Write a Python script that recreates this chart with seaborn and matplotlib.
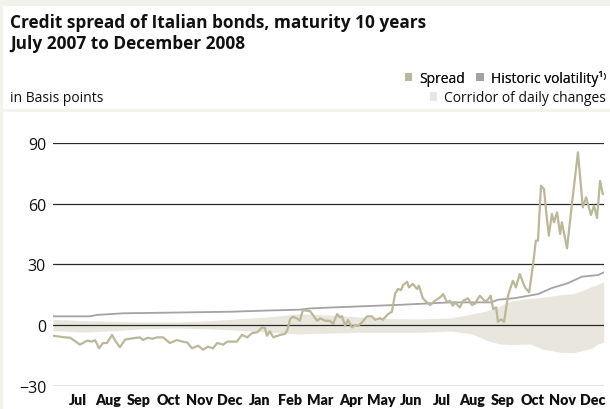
import matplotlib
matplotlib.use("Agg")
import matplotlib.pyplot as plt
import seaborn as sns
import pandas as pd
from matplotlib.patches import Rectangle, Patch

# ---------------- data ----------------
title_lines = ["Credit spread of Italian bonds, maturity 10 years",
               "July 2007 to December 2008"]
unit_label = "in Basis points"
month_labels = ["Jul", "Aug", "Sep", "Oct", "Nov", "Dec", "Jan", "Feb", "Mar",
                "Apr", "May", "Jun", "Jul", "Aug", "Sep", "Oct", "Nov", "Dec"]
y_ticks = [-30, 0, 30, 60, 90]
y_tick_labels = ["\u221230", "0", "30", "60", "90"]
legend_labels = ["Spread", "Historic volatility\u00b9\u207e", "Corridor of daily changes"]

# x = months since 1 July 2007 (0 = start of July 2007)
spread_month = [-0.33, 0.07, 0.24, 0.56, 0.73, 0.82, 0.96, 1.06, 1.19, 1.32, 1.45, 1.62,
                1.72, 1.88, 2.05, 2.28, 2.54, 2.64, 2.80, 2.95, 3.11, 3.30, 3.53, 3.76,
                3.94, 4.10, 4.26, 4.46, 4.62, 4.79, 4.95, 5.09, 5.29, 5.42, 5.74, 5.91,
                6.08, 6.24, 6.41, 6.57, 6.67, 6.73, 6.83, 6.94, 7.17, 7.33, 7.40, 7.50,
                7.59, 7.72, 7.82, 7.92, 8.16, 8.39, 8.49, 8.65, 8.81, 8.91, 9.05, 9.15,
                9.21, 9.31, 9.41, 9.54, 9.64, 9.74, 9.87, 10.04, 10.20, 10.30, 10.47,
                10.56, 10.73, 10.86, 10.96, 11.05, 11.16, 11.23, 11.36, 11.42, 11.55,
                11.69, 11.75, 11.88, 12.01, 12.12, 12.28, 12.45, 12.55, 12.68, 12.77,
                12.87, 12.94, 13.10, 13.21, 13.37, 13.50, 13.60, 13.76, 13.93, 14.03,
                14.12, 14.20, 14.30, 14.36, 14.46, 14.56, 14.69, 14.85, 14.95, 15.08,
                15.25, 15.39, 15.52, 15.61, 15.68, 15.78, 15.88, 15.97, 16.04, 16.14,
                16.21, 16.31, 16.41, 16.47, 16.64, 16.80, 17.00, 17.16, 17.27, 17.43,
                17.53, 17.63, 17.73, 17.82, 17.85]
spread_bp = [-5.3, -6.1, -6.3, -9.7, -8.2, -7.7, -8.2, -7.5, -11.5, -8.9, -8.9, -4.9,
             -7.7, -11.0, -7.2, -6.6, -6.1, -7.4, -6.3, -6.8, -6.1, -6.1, -8.9, -7.4,
             -8.2, -8.6, -11.5, -10.2, -12.2, -10.7, -11.5, -8.9, -9.7, -8.2, -8.2, -4.9,
             -6.1, -4.0, -3.6, -1.2, -1.4, -5.3, -3.1, -6.1, -4.9, -4.4, -2.7, 3.0,
             4.1, 3.3, 2.2, 7.4, 6.8, 2.1, 3.3, 2.1, 2.1, 0.5, 5.4, 3.8,
             4.4, -0.3, 2.5, -1.2, 0.0, -0.5, 1.3, 4.3, 4.3, 2.6, 3.4,
             2.6, 5.4, 6.6, 15.3, 17.8, 17.3, 19.8, 21.4, 18.6, 20.3,
             17.8, 19.5, 13.2, 11.2, 9.9, 12.0, 13.7, 15.3, 11.2, 12.0,
             9.6, 11.2, 8.7, 12.0, 13.2, 9.9, 10.6, 14.5, 11.7, 12.6,
             14.5, 7.9, 8.7, 1.6, 2.8, 1.6, 14.5, 21.9, 18.6, 25.2,
             18.6, 16.2, 30.2, 41.7, 41.7, 68.9, 67.2, 53.2, 44.2, 54.9,
             50.8, 55.7, 45.0, 50.8, 37.9, 59.8, 85.4, 58.2, 63.1, 54.4,
             59.0, 52.9, 71.3, 64.8, 64.8]

vol_month = [-0.33, 0.88, 1.13, 1.99, 4.30, 5.61, 6.60, 7.82, 8.16, 8.91, 11.13, 12.77,
             14.12, 14.36, 14.92, 15.68, 16.14, 16.67, 17.13, 17.66, 17.85]
vol_bp = [4.3, 4.3, 5.0, 5.8, 6.3, 6.6, 7.1, 7.6, 8.2, 8.7, 10.0, 11.2,
          11.2, 12.5, 13.3, 15.3, 18.3, 20.7, 23.9, 24.7, 26.0]

corr_month = [-0.33, 0.68, 1.69, 2.70, 3.71, 4.72, 5.73, 6.74, 7.75, 8.76, 9.77, 10.78,
              11.79, 12.80, 13.51, 14.01, 14.42, 14.82, 15.43, 15.83, 16.44, 16.84,
              17.14, 17.45, 17.65, 17.85]
corr_upper = [2.8, 2.2, 1.8, 1.5, 1.5, 2.0, 3.0, 4.0, 5.5, 5.0, 4.0, 3.2, 3.0, 3.5,
              5.5, 7.0, 9.5, 12.0, 13.2, 13.7, 15.0, 15.5, 17.0, 19.0, 20.0, 21.4]
corr_lower = [-2.8, -3.5, -2.8, -1.8, -1.5, -1.8, -2.5, -3.5, -4.4, -4.0, -3.6, -3.6,
              -3.6, -3.0, -4.4, -7.7, -9.4, -9.6, -9.4, -11.9, -13.5, -13.6, -12.7,
              -11.5, -9.4, -8.6]

# ---------------- style ----------------
SPREAD_C = "#bbb799"
VOL_C = "#a3a3a3"
CORR_C = "#e9e6dd"
CREAM = "#f4f3eb"
GRID_C = "#2a2a2a"
TXT_C = "#111111"

sns.set_style("white")
plt.rcParams["font.family"] = ["Open Sans", "DejaVu Sans"]

fig = plt.figure(figsize=(6.1, 4.1), dpi=100, facecolor=CREAM)
W, H = 610, 410
# white panels (drawn beneath the axes)
fig.patches.append(Rectangle((3 / W, 1 - 110 / H), 1, (110 - 7) / H,
                             transform=fig.transFigure, facecolor="white",
                             edgecolor="none", zorder=-5))
fig.patches.append(Rectangle((3 / W, 0), 1, 1 - 113 / H,
                             transform=fig.transFigure, facecolor="white",
                             edgecolor="none", zorder=-5))

ax = fig.add_axes([53 / W, 1 - 386.7 / H, 551 / W, (386.7 - 144) / H])
ax.patch.set_visible(False)

spread_df = pd.DataFrame({"month": spread_month, "bp": spread_bp})
vol_df = pd.DataFrame({"month": vol_month, "bp": vol_bp})
corr_df = pd.DataFrame({"month": corr_month, "upper": corr_upper, "lower": corr_lower})

ax.fill_between(corr_df["month"], corr_df["lower"], corr_df["upper"],
                color=CORR_C, lw=0, zorder=0.3)
sns.lineplot(data=vol_df, x="month", y="bp", ax=ax, color=VOL_C, lw=1.3,
             zorder=2)
sns.lineplot(data=spread_df, x="month", y="bp", ax=ax, color=SPREAD_C, lw=1.6,
             zorder=3)

ax.set_xlim(-0.33, 17.86)
ax.set_ylim(-30, 90)
ax.set_yticks(y_ticks)
ax.set_yticklabels(y_tick_labels, fontsize=11.5, color=TXT_C)
ax.set_xticks([i + 0.5 for i in range(len(month_labels))])
ax.set_xticklabels(month_labels, fontsize=10.3, fontweight="heavy", color=TXT_C,
                   family=["Lato", "DejaVu Sans"])
ax.tick_params(axis="both", length=0)
ax.tick_params(axis="y", pad=5)
ax.tick_params(axis="x", pad=5)
ax.set_axisbelow(True)
ax.grid(axis="y", color=GRID_C, lw=0.9)
ax.grid(axis="x", visible=False)
for s in ax.spines.values():
    s.set_visible(False)
ax.set_xlabel("")
ax.set_ylabel("")

# ---------------- header ----------------
fig.text(10 / W, 1 - 23 / H, title_lines[0], fontsize=12.4, fontweight="bold",
         va="center", ha="left", color=TXT_C)
fig.text(10 / W, 1 - 44 / H, title_lines[1], fontsize=12.4, fontweight="bold",
         va="center", ha="left", color=TXT_C)
fig.text(10 / W, 1 - 99 / H, unit_label, fontsize=10, va="center", ha="left",
         color=TXT_C)

h1 = [Patch(facecolor=SPREAD_C, edgecolor="none", label=legend_labels[0]),
      Patch(facecolor=VOL_C, edgecolor="none", label=legend_labels[1])]
leg1 = fig.legend(handles=h1, loc="center right", bbox_to_anchor=(606 / W, 1 - 79 / H),
                  ncol=2, frameon=False, fontsize=10, handlelength=0.55,
                  handleheight=0.55, handletextpad=0.5, columnspacing=0.8,
                  borderpad=0, borderaxespad=0)
fig.add_artist(leg1)
h2 = [Patch(facecolor=CORR_C, edgecolor="none", label=legend_labels[2])]
leg2 = fig.legend(handles=h2, loc="center right", bbox_to_anchor=(606 / W, 1 - 99 / H),
                  frameon=False, fontsize=10, handlelength=0.55, handleheight=0.55,
                  handletextpad=0.5, borderpad=0, borderaxespad=0)
for lg in (leg1, leg2):
    for t in lg.get_texts():
        t.set_color(TXT_C)

fig.savefig("out.png", dpi=100, facecolor=CREAM)
